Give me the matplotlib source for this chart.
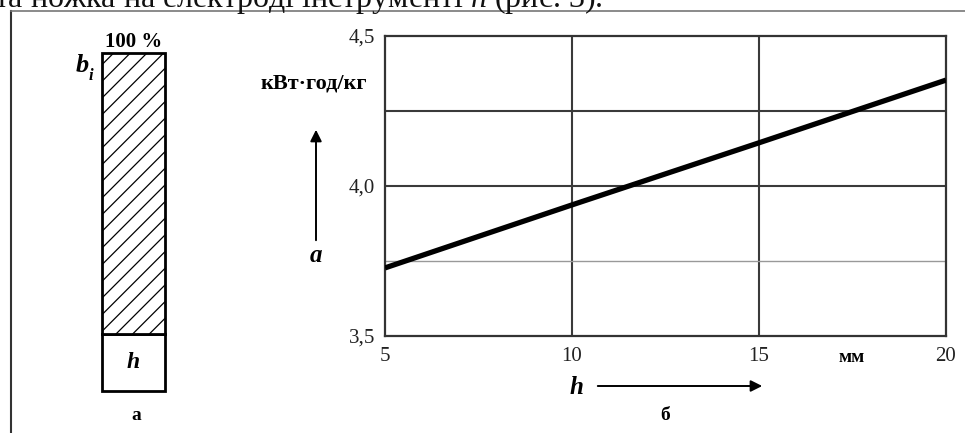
import matplotlib.pyplot as plt
from matplotlib.lines import Line2D
from matplotlib.patches import FancyArrowPatch

plt.rcParams['font.family'] = ['Liberation Serif', 'DejaVu Serif']
plt.rcParams['mathtext.fontset'] = 'custom'
plt.rcParams['mathtext.rm'] = 'Liberation Serif'
plt.rcParams['mathtext.it'] = 'Liberation Serif:italic'
plt.rcParams['hatch.linewidth'] = 0.9

# data
h_mm = [5, 10, 15, 20]
a_kwh = [3.727, 3.937, 4.144, 4.353]
x_ticks = [5, 10, 15, 20]
y_ticks = [3.5, 4.0, 4.5]
y_labels = ['3,5', '4,0', '4,5']
grid_x = [10, 15]
grid_y_dark = [4.0, 4.25]
grid_y_light = [3.75]

# left sketch: share of electrode height (h part and b_i part)
part_h = 0.17
part_b = 0.83

W, H = 965, 433
fig = plt.figure(figsize=(W / 100, H / 100), dpi=100)


def px(x, y):
    # top-left pixel coords -> figure fraction
    return x / W, 1 - y / H


def box(x0, y0, x1, y1):
    return [x0 / W, 1 - y1 / H, (x1 - x0) / W, (y1 - y0) / H]


dark = '#333333'

# page frame and cut-off line of body text above it
fig.add_artist(Line2D([11 / W, 11 / W], [0, 1 - 11 / H], color=dark, lw=1.5))
fig.add_artist(Line2D([11 / W, 1], [1 - 11 / H, 1 - 11 / H], color='#777777', lw=1.2))
fig.text(*px(-6, 7), 'та ножка на електроді інструменті $h$ (рис. 3).',
         fontsize=23, va='baseline', ha='left', color='#111111')

# ---- panel a ----
axl = fig.add_axes(box(102, 53, 165, 391))
axl.bar([0], [part_h], width=1, color='white', edgecolor='black', lw=2, clip_on=False)
axl.bar([0], [part_b], bottom=[part_h], width=1, color='white', edgecolor='black',
        lw=2, hatch='//', clip_on=False)
axl.set_xlim(-0.5, 0.5)
axl.set_ylim(0, 1)
axl.axis('off')
axl.text(0, part_h / 2, 'h', ha='center', va='center', fontsize=17,
         fontweight='bold', style='italic')
fig.text(*px(134, 42), '100 %', ha='center', va='center', fontsize=15, fontweight='bold')
fig.text(*px(82, 66), 'b', ha='center', va='center', fontsize=19,
         fontweight='bold', style='italic')
fig.text(*px(91, 76), 'i', ha='center', va='center', fontsize=12,
         fontweight='bold', style='italic')
fig.text(*px(136, 415), 'а', ha='center', va='center', fontsize=14, fontweight='bold')

# ---- panel b ----
ax = fig.add_axes(box(385, 36, 946, 336))
ax.plot(h_mm, a_kwh, color='black', lw=3.8, solid_capstyle='butt', zorder=3)
for gx in grid_x:
    ax.axvline(gx, color='#3a3a3a', lw=1.5, zorder=1)
for gy in grid_y_dark:
    ax.axhline(gy, color='#3a3a3a', lw=1.5, zorder=1)
for gy in grid_y_light:
    ax.axhline(gy, color='#999999', lw=1.0, zorder=1)
ax.set_xlim(5, 20)
ax.set_ylim(3.5, 4.5)
ax.set_xticks(x_ticks)
ax.set_xticklabels([str(t) for t in x_ticks])
ax.set_yticks(y_ticks)
ax.set_yticklabels(y_labels)
ax.tick_params(length=0, labelsize=15, colors='#222222')
ax.tick_params(axis='x', pad=8)
ax.tick_params(axis='y', pad=7)
for s in ax.spines.values():
    s.set_color(dark)
    s.set_linewidth(1.6)

fig.text(*px(314, 84), 'кВт·год/кг', ha='center', va='center', fontsize=16, fontweight='bold')
fig.text(*px(316, 256), 'a', ha='center', va='center', fontsize=18,
         fontweight='bold', style='italic')
fig.text(*px(852, 358), 'мм', ha='center', va='center', fontsize=14, fontweight='bold')
fig.text(*px(576, 387), 'h', ha='center', va='center', fontsize=18,
         fontweight='bold', style='italic')
fig.text(*px(665, 415), 'б', ha='center', va='center', fontsize=14, fontweight='bold')

fig.add_artist(FancyArrowPatch(px(316, 243), px(316, 127), transform=fig.transFigure,
                               arrowstyle='-|>', mutation_scale=17, lw=1.4, color='black'))
fig.add_artist(FancyArrowPatch(px(595, 386), px(765, 386), transform=fig.transFigure,
                               arrowstyle='-|>', mutation_scale=17, lw=1.4, color='black'))

fig.savefig('out.png', dpi=100)
